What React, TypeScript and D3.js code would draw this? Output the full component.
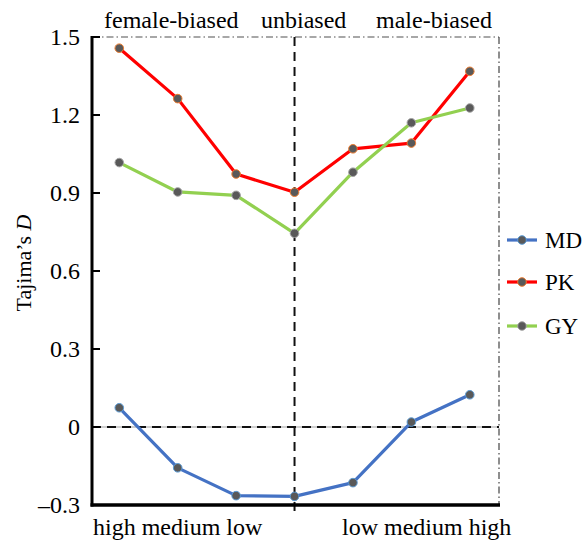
import React from 'react';
import * as d3 from 'd3';

const groups = ['female-biased', 'unbiased', 'male-biased'];
const bottomLabels = ['high medium low', 'low medium high'];
const yTicks = [-0.3, 0, 0.3, 0.6, 0.9, 1.2, 1.5];

const MD = [0.074, -0.157, -0.264, -0.267, -0.214, 0.019, 0.124];
const PK = [1.457, 1.263, 0.973, 0.903, 1.07, 1.092, 1.368];
const GY = [1.017, 0.904, 0.891, 0.745, 0.98, 1.17, 1.227];

const series = [
  { name: 'MD', values: MD, color: '#4472c4', ring: '#5b9bd5' },
  { name: 'PK', values: PK, color: '#ff0000', ring: '#ed7d31' },
  { name: 'GY', values: GY, color: '#92d050', ring: '#a5a5a5' },
];

const serif = { fontFamily: '"Liberation Serif"', fontSize: 24 };

const width = 583;
const height = 540;
const left = 92, right = 499, top = 37, bottom = 505;

function App() {
  const x = d3.scaleLinear().domain([-0.467, 6.5]).range([left, right]);
  const y = d3.scaleLinear().domain([-0.3, 1.5]).range([bottom, top]);
  const line = d3.line<number>().x((d, i) => x(i)).y(d => y(d));

  const fmt = (d: number) => d === 0 ? '0' : (d < 0 ? '\u2013' + Math.abs(d).toFixed(1) : d.toFixed(1));

  const groupX = [104, 261, 376];
  const bottomX = [93, 342];
  const legendY = [240, 282, 326];

  return (
    <svg width={width} height={height} style={{ position: 'absolute', left: 0, top: 0 }}>
      {/* cadre pointillé en haut et à droite */}
      <line x1={left} x2={right} y1={y(1.5)} y2={y(1.5)} stroke="#8a8a8a" strokeWidth={1.5} strokeDasharray="7,3,1.5,3" />
      <line x1={right} x2={right} y1={top} y2={bottom} stroke="#444" strokeWidth={1.2} strokeDasharray="7,3,1.5,3" />

      {/* ligne du zéro */}
      <line x1={left} x2={right} y1={y(0)} y2={y(0)} stroke="#cfcfcf" strokeWidth={2} />
      <line x1={left} x2={right} y1={y(0)} y2={y(0)} stroke="#111" strokeWidth={2} strokeDasharray="9,6" />

      {/* séparation verticale */}
      <line x1={x(3)} x2={x(3)} y1={top} y2={bottom + 6} stroke="#111" strokeWidth={2} strokeDasharray="9,6" />

      {/* axes */}
      {yTicks.map(t => (
        <line key={'t' + t} x1={left} x2={left + 8} y1={y(t)} y2={y(t)} stroke="#000" strokeWidth={2} />
      ))}
      <line x1={left} x2={left} y1={top - 1} y2={bottom + 1.5} stroke="#000" strokeWidth={3} />
      <line x1={left - 1.5} x2={right + 1} y1={bottom} y2={bottom} stroke="#000" strokeWidth={3.5} />

      {yTicks.map(t => (
        <text key={'l' + t} x={80} y={y(t)} dy="0.35em" textAnchor="end" style={serif}>{fmt(t)}</text>
      ))}

      <text transform={`translate(31,${(top + bottom) / 2 - 8}) rotate(-90)`} textAnchor="middle"
        style={{ ...serif, fontSize: 22 }}>
        Tajima’s <tspan style={{ fontStyle: 'italic' }}>D</tspan>
      </text>

      {/* libellés du haut et du bas */}
      {groups.map((g, i) => (
        <text key={g} x={groupX[i]} y={28} style={serif}>{g}</text>
      ))}
      {bottomLabels.map((b, i) => (
        <text key={b} x={bottomX[i]} y={535} style={serif}>{b}</text>
      ))}

      {/* séries */}
      {series.map(s => (
        <g key={s.name}>
          <path d={line(s.values) || ''} fill="none" stroke={s.color} strokeWidth={3.2} strokeLinejoin="round" />
          {s.values.map((v, i) => (
            <circle key={i} cx={x(i)} cy={y(v)} r={4.3} fill="#595959" stroke={s.ring} strokeWidth={1} />
          ))}
        </g>
      ))}

      {/* légende */}
      {series.map((s, i) => (
        <g key={'lg' + s.name}>
          <line x1={507} x2={537} y1={legendY[i]} y2={legendY[i]} stroke={s.color} strokeWidth={3.2} />
          <circle cx={522} cy={legendY[i]} r={4.3} fill="#595959" stroke={s.ring} strokeWidth={1} />
          <text x={545} y={legendY[i]} dy="0.35em" style={{ ...serif, fontSize: 23 }}>{s.name}</text>
        </g>
      ))}
    </svg>
  );
}

export default App;
